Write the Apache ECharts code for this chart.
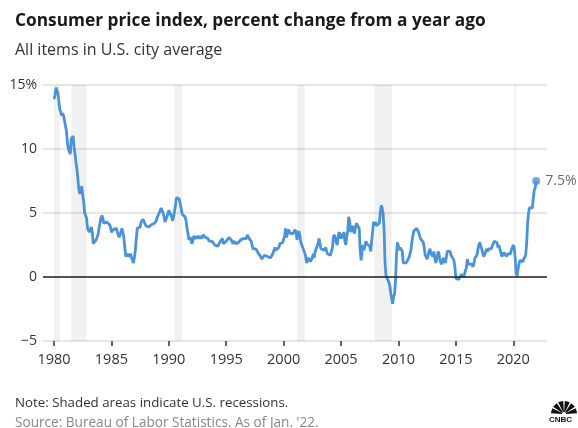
<!DOCTYPE html>
<html>
<head>
<meta charset="utf-8">
<script src="https://cdn.jsdelivr.net/npm/echarts@6/dist/echarts.min.js"></script>
<style>
html,body{margin:0;padding:0;background:#fff;}
#c{width:578px;height:428px;}
</style>
</head>
<body>
<div id="c"></div>
<script>
// Monthly CPI-U, % change from a year ago (Jan 1980 .. Jan 2022)
const cpi1980s = [
 13.9,14.2,14.8,14.7,14.4,14.4,13.1,12.9,12.6,12.8,12.6,12.5,
 11.8,11.4,10.5,10.0,9.8,9.6,10.8,10.8,11.0,10.1,9.6,8.9,
 8.4,7.6,6.8,6.5,6.7,7.1,6.4,5.9,5.0,5.1,4.6,3.8,
 3.7,3.5,3.6,3.9,3.5,2.6,2.5,2.6,2.9,2.9,3.3,3.8,
 4.2,4.6,4.8,4.6,4.2,4.2,4.2,4.3,4.3,4.3,4.1,3.9,
 3.5,3.5,3.7,3.7,3.8,3.8,3.6,3.3,3.1,3.2,3.5,3.8,
 3.9,3.1,2.3,1.6,1.5,1.8,1.6,1.6,1.8,1.5,1.3,1.1,
 1.5,2.1,3.0,3.8,3.9,3.7,3.9,4.3,4.4,4.5,4.5,4.4,
 4.0,3.9,3.9,3.9,3.9,4.0,4.1,4.0,4.2,4.2,4.2,4.4,
 4.7,4.8,5.0,5.1,5.4,5.2,5.0,4.7,4.3,4.5,4.7,4.6
];
const cpi1990s = [
 5.2,5.3,5.2,4.7,4.4,4.7,4.8,5.6,6.2,6.3,6.3,6.1,
 5.7,5.3,4.9,4.9,5.0,4.7,4.4,3.8,3.4,2.9,3.0,3.1,
 2.6,2.8,3.2,3.2,3.0,3.1,3.2,3.1,3.0,3.2,3.0,2.9,
 3.3,3.2,3.1,3.2,3.2,3.0,2.8,2.8,2.7,2.8,2.7,2.7,
 2.5,2.5,2.5,2.4,2.3,2.5,2.8,2.9,3.0,2.6,2.7,2.7,
 2.8,2.9,2.9,3.1,3.2,3.0,2.8,2.6,2.5,2.8,2.6,2.5,
 2.7,2.7,2.8,2.9,2.9,2.8,3.0,2.9,3.0,3.0,3.3,3.3,
 3.0,3.0,2.8,2.5,2.2,2.3,2.2,2.2,2.2,2.1,1.8,1.7,
 1.6,1.4,1.4,1.4,1.7,1.7,1.7,1.6,1.5,1.5,1.5,1.6,
 1.7,1.6,1.7,2.3,2.1,2.0,2.1,2.3,2.6,2.6,2.6,2.7
];
const cpi2000s = [
 2.7,3.2,3.8,3.1,3.2,3.7,3.7,3.4,3.5,3.4,3.4,3.4,
 3.7,3.5,2.9,3.3,3.6,3.2,2.7,2.7,2.6,2.1,1.9,1.6,
 1.1,1.1,1.5,1.6,1.2,1.1,1.5,1.8,1.5,2.0,2.2,2.4,
 2.6,3.0,3.0,2.2,2.1,2.1,2.1,2.2,2.3,2.0,1.8,1.9,
 1.9,1.7,1.7,2.3,3.1,3.3,3.0,2.7,2.5,3.2,3.5,3.3,
 3.0,3.0,3.1,3.5,2.8,2.5,3.2,3.6,4.7,4.3,3.5,3.4,
 4.0,3.6,3.4,3.5,4.2,4.3,4.1,3.8,2.1,1.3,2.0,2.5,
 2.1,2.4,2.8,2.6,2.7,2.7,2.4,2.0,2.8,3.5,4.3,4.1,
 4.3,4.0,4.0,3.9,4.2,5.0,5.6,5.4,4.9,3.7,1.1,0.1,
 0.0,0.2,-0.4,-0.7,-1.3,-1.4,-2.1,-1.5,-1.3,-0.2,1.8,2.7
];
const cpi2010s = [
 2.6,2.1,2.3,2.2,2.0,1.1,1.2,1.1,1.1,1.2,1.1,1.5,
 1.6,2.1,2.7,3.2,3.6,3.6,3.6,3.8,3.9,3.5,3.4,3.0,
 2.9,2.9,2.7,2.3,1.7,1.7,1.4,1.7,2.0,2.2,1.8,1.7,
 1.6,2.0,1.5,1.1,1.4,1.8,2.0,1.5,1.2,1.0,1.2,1.5,
 1.6,1.1,1.5,2.0,2.1,2.1,2.0,1.7,1.7,1.7,1.3,0.8,
 -0.1,0.0,-0.1,-0.2,0.0,0.1,0.2,0.2,0.0,0.2,0.5,0.7,
 1.4,1.0,0.9,1.1,1.0,1.0,0.8,1.1,1.5,1.6,1.7,2.1,
 2.5,2.7,2.4,2.2,1.9,1.6,1.7,1.9,2.2,2.0,2.2,2.1,
 2.1,2.2,2.4,2.5,2.8,2.9,2.9,2.7,2.3,2.5,2.2,1.9,
 1.6,1.5,1.9,2.0,1.8,1.6,1.8,1.7,1.7,1.8,2.1,2.3
];
const cpi2020s = [
 2.5,2.3,1.5,0.3,0.1,0.6,1.0,1.3,1.4,1.2,1.2,1.4,
 1.4,1.7,2.6,4.2,5.0,5.4,5.4,5.3,5.4,6.2,6.8,7.0,
 7.5
];
const startYear = 1980;
// Recessions [start, end] in decimal years
const recessionStarts = [1980.0, 1981.5, 1990.5, 2001.17, 2007.92, 2020.08];
const recessionEnds   = [1980.5, 1982.83, 1991.17, 2001.83, 2009.42, 2020.25];
const yTicks = [-5, 0, 5, 10, 15];
const xTickYears = [1980, 1985, 1990, 1995, 2000, 2005, 2010, 2015, 2020];

const allVals = cpi1980s.concat(cpi1990s, cpi2000s, cpi2010s, cpi2020s);
const lineData = allVals.map((v, i) => [startYear + i / 12, v]);
const lastPt = lineData[lineData.length - 1];

const shadeAreas = recessionStarts.map((s, i) => [{xAxis: s}, {xAxis: recessionEnds[i]}]);

const BLUE = '#4a93d9';
const FONT = '"Open Sans", Lato, sans-serif';

const chart = echarts.init(document.getElementById('c'), null, {renderer: 'canvas'});

// CNBC-ish peacock feathers
const feathers = [];
const nF = 6;
for (let k = 0; k < nF; k++) {
  const a0 = Math.PI + k * Math.PI / nF + 0.06;
  const a1 = Math.PI + (k + 1) * Math.PI / nF - 0.06;
  feathers.push({
    type: 'sector',
    shape: {cx: 564, cy: 414, r0: 2, r: 13, startAngle: a0, endAngle: a1},
    style: {fill: '#111'}
  });
}

chart.setOption({
  animation: false,
  textStyle: {fontFamily: FONT},
  grid: [
    {left: 43, top: 85, width: 504, height: 256},
    {left: 54, top: 85, width: 459.3, height: 256}
  ],
  xAxis: [
    {type: 'value', gridIndex: 0, min: 1979.04, max: 2022.94,
     axisLine: {show: false}, axisTick: {show: false}, axisLabel: {show: false}, splitLine: {show: false}},
    {type: 'value', gridIndex: 1, min: xTickYears[0], max: xTickYears[xTickYears.length - 1], interval: 5,
     axisLine: {show: false},
     axisTick: {show: true, length: 5, lineStyle: {color: '#333', width: 1.5}},
     axisLabel: {show: true, margin: 11, color: '#333', fontSize: 14.5, fontFamily: FONT,
       formatter: v => String(v)},
     splitLine: {show: false}}
  ],
  yAxis: [
    {type: 'value', gridIndex: 0, min: yTicks[0], max: yTicks[yTicks.length - 1], interval: 5,
     axisLine: {show: false}, axisTick: {show: false},
     axisLabel: {margin: 6, color: '#333', fontSize: 14, fontFamily: FONT,
       formatter: v => v === 15 ? '15%' : (v < 0 ? '\u2212' + Math.abs(v) : String(v))},
     splitLine: {show: true, lineStyle: {color: '#dedede', width: 1.5}}},
    {type: 'value', gridIndex: 1, min: 0, max: 1, show: false}
  ],
  title: [
    {text: 'Consumer price index, percent change from a year ago', left: 10, top: 8,
     textStyle: {fontSize: 17.3, fontWeight: 'bold', color: '#1a1a1a', fontFamily: FONT}},
    {text: 'All items in U.S. city average', left: 10, top: 37,
     textStyle: {fontSize: 16, fontWeight: 'normal', color: '#333', fontFamily: FONT}},
    {text: 'Note: Shaded areas indicate U.S. recessions.', left: 10, top: 392,
     textStyle: {fontSize: 13.3, fontWeight: 'normal', color: '#333', fontFamily: FONT}},
    {text: "Source: Bureau of Labor Statistics. As of Jan. '22.", left: 10, top: 411,
     textStyle: {fontSize: 13.6, fontWeight: 'normal', color: '#888', fontFamily: FONT}}
  ],
  graphic: feathers.concat([
    {type: 'text', left: 549, top: 416, style: {text: 'CNBC', fill: '#111', font: 'bold 8px Arial, sans-serif'}}
  ]),
  series: [
    {type: 'line', xAxisIndex: 0, yAxisIndex: 0, data: [[1980, 0]], symbol: 'none', silent: true, z: 1,
     lineStyle: {width: 0},
     markArea: {silent: true, itemStyle: {color: 'rgba(0,0,0,0.055)'}, data: shadeAreas}},
    {type: 'line', xAxisIndex: 0, yAxisIndex: 0, data: [[1980, 0]], symbol: 'none', silent: true, z: 2,
     lineStyle: {width: 0},
     markLine: {silent: true, symbol: 'none', label: {show: false},
       lineStyle: {color: '#222', width: 1.5, type: 'solid'}, data: [{yAxis: 0}]}},
    {type: 'line', xAxisIndex: 0, yAxisIndex: 0, data: lineData, symbol: 'none', z: 3,
     lineStyle: {color: BLUE, width: 2.8}, itemStyle: {color: BLUE}},
    {type: 'scatter', xAxisIndex: 0, yAxisIndex: 0, data: [lastPt], symbolSize: 8, z: 4,
     itemStyle: {color: BLUE},
     label: {show: true, position: 'right', distance: 5, color: '#444', fontSize: 14, fontFamily: FONT,
       formatter: p => p.value[1].toFixed(1) + '%'}}
  ]
});
</script>
</body>
</html>
